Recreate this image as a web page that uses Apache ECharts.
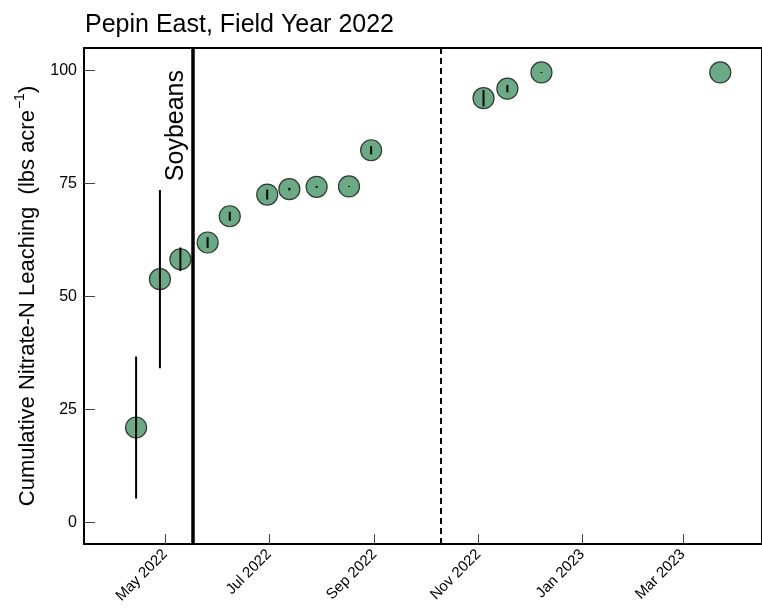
<!DOCTYPE html>
<html>
<head>
<meta charset="utf-8">
<title>Pepin East, Field Year 2022</title>
<script src="https://cdn.jsdelivr.net/npm/echarts@6/dist/echarts.min.js"></script>
<style>
  html, body { margin: 0; padding: 0; background: #fff; }
  #chart { width: 762px; height: 612px; }
</style>
</head>
<body>
<div id="chart"></div>
<script>
// Sampling dates and cumulative nitrate-N leaching (lbs/acre) with error half-widths
const sampleDates = [
  '2022-04-14', '2022-04-28', '2022-05-10', '2022-05-26', '2022-06-08',
  '2022-06-30', '2022-07-13', '2022-07-29', '2022-08-17', '2022-08-30',
  '2022-11-04', '2022-11-18', '2022-12-08', '2023-03-23'
];
const meanN = [21.0, 53.8, 58.2, 61.9, 67.7, 72.5, 73.7, 74.2, 74.3, 82.3, 93.8, 95.9, 99.5, 99.5];
const errN  = [15.7, 19.7, 2.6, 1.2, 1.0, 1.1, 0.3, 0.2, 0.1, 0.9, 1.8, 0.8, 0.1, 0.0];

// Reference events
const plantingDate = '2022-05-17';
const plantingLabel = 'Soybeans';
const dashedDate = '2022-10-10';

// Axis ticks
const xTickDates = ['2022-05-01', '2022-07-01', '2022-09-01', '2022-11-01', '2023-01-01', '2023-03-01'];
const xTickLabels = ['May 2022', 'Jul 2022', 'Sep 2022', 'Nov 2022', 'Jan 2023', 'Mar 2023'];
const yTicks = [0, 25, 50, 75, 100];

const xMinDate = '2022-03-14T10:00';
const xMaxDate = '2023-04-16T12:00';

function toTime(s) {
  const [d, t] = s.split('T');
  const [y, m, day] = d.split('-').map(Number);
  let h = 0, mi = 0;
  if (t) { [h, mi] = t.split(':').map(Number); }
  return Date.UTC(y, m - 1, day, h, mi);
}

const xTickTimes = xTickDates.map(toTime);
const points = sampleDates.map((d, i) => [toTime(d), meanN[i]]);
const bars = sampleDates.map((d, i) => [toTime(d), meanN[i] - errN[i], meanN[i] + errN[i]]);

const FONT = '"Liberation Sans", Arial, sans-serif';

const chart = echarts.init(document.getElementById('chart'), null, { renderer: 'canvas' });

chart.setOption({
  animation: false,
  backgroundColor: '#ffffff',
  textStyle: { fontFamily: FONT },
  title: {
    text: 'Pepin East, Field Year 2022',
    left: 85,
    top: 13,
    padding: 0,
    textStyle: { fontFamily: FONT, fontSize: 25, fontWeight: 'normal', color: '#000' }
  },
  grid: {
    left: 84, right: -4, top: 48, bottom: 68,
    show: true, borderColor: '#000', borderWidth: 2, containLabel: false
  },
  xAxis: {
    type: 'value',
    min: toTime(xMinDate),
    max: toTime(xMaxDate),
    axisLine: { show: true, onZero: false, lineStyle: { color: '#000', width: 2 } },
    axisTick: {
      show: true, inside: true, length: 10,
      customValues: xTickTimes,
      lineStyle: { color: '#444', width: 1 }
    },
    axisLabel: {
      customValues: xTickTimes,
      rotate: 45,
      fontFamily: FONT, fontSize: 15, color: '#000', margin: 8,
      formatter: function (v) {
        const i = xTickTimes.indexOf(v);
        return i >= 0 ? xTickLabels[i] : '';
      }
    },
    splitLine: { show: false }
  },
  yAxis: {
    type: 'value',
    min: -4.75,
    max: 104.9,
    axisLine: { show: true, onZero: false, lineStyle: { color: '#000', width: 2 } },
    axisTick: {
      show: true, inside: true, length: 11,
      customValues: yTicks,
      lineStyle: { color: '#444', width: 1 }
    },
    axisLabel: {
      customValues: yTicks,
      fontFamily: FONT, fontSize: 16, color: '#000', margin: 7
    },
    splitLine: { show: false },
    name: '{a|Cumulative Nitrate-N Leaching  (lbs acre}{s|−1}{a|)}',
    nameLocation: 'middle',
    nameRotate: 90,
    nameGap: 45,
    nameTextStyle: {
      rich: {
        a: { fontFamily: FONT, fontSize: 22, color: '#000', lineHeight: 26, verticalAlign: 'bottom' },
        s: { fontFamily: FONT, fontSize: 14, color: '#000', lineHeight: 26, verticalAlign: 'top', padding: [0, 0, 0, 1] }
      }
    }
  },
  series: [
    {
      name: 'Cumulative leaching',
      type: 'scatter',
      data: points,
      symbol: 'circle',
      symbolSize: 21,
      z: 3,
      itemStyle: { color: '#6aab86', borderColor: '#2e3a32', borderWidth: 1.2, opacity: 1 },
      markLine: {
        silent: true,
        symbol: ['none', 'none'],
        z: 5,
        lineStyle: { color: '#000', width: 3.5, type: 'solid' },
        label: {
          show: true,
          formatter: plantingLabel,
          position: 'insideEndTop',
          distance: [22, 4],
          fontFamily: FONT, fontSize: 25, color: '#000'
        },
        emphasis: { disabled: true },
        data: [{ xAxis: toTime(plantingDate) }]
      }
    },
    {
      name: 'Error bars',
      type: 'custom',
      data: bars,
      z: 4,
      renderItem: function (params, api) {
        const t = api.value(0);
        const p0 = api.coord([t, api.value(1)]);
        const p1 = api.coord([t, api.value(2)]);
        return {
          type: 'line',
          shape: { x1: p0[0], y1: p0[1], x2: p1[0], y2: p1[1] },
          style: { stroke: '#000', lineWidth: 2 }
        };
      },
      encode: { x: 0, y: [1, 2] },
      markLine: {
        silent: true,
        symbol: ['none', 'none'],
        lineStyle: { color: '#000', width: 2, type: [6, 4] },
        label: { show: false },
        emphasis: { disabled: true },
        data: [{ xAxis: toTime(dashedDate) }]
      }
    }
  ]
});
</script>
</body>
</html>
